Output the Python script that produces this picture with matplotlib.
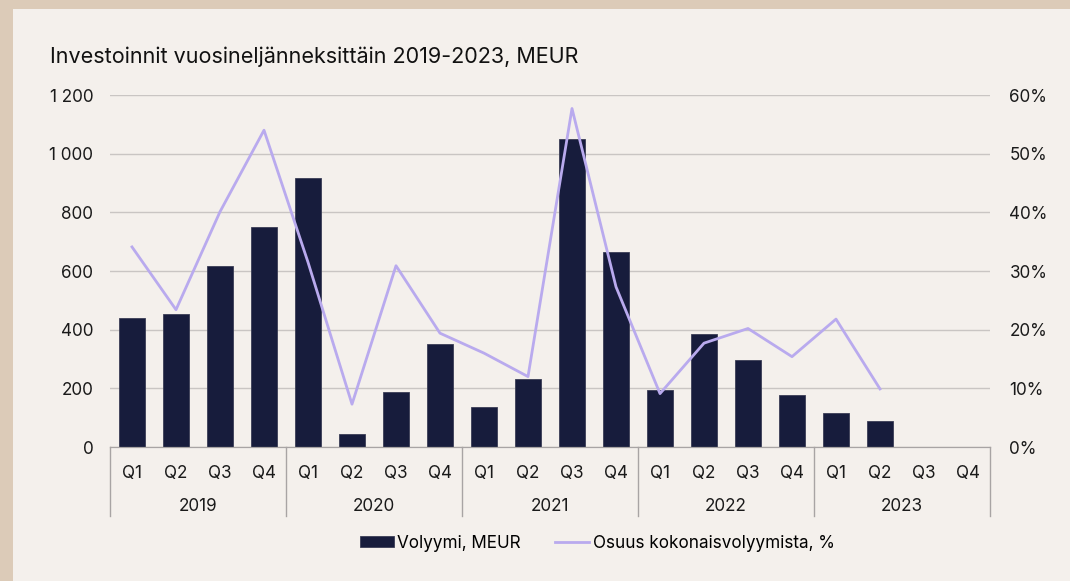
import matplotlib
matplotlib.use("Agg")
import matplotlib.pyplot as plt
import matplotlib.transforms as mtransforms
from matplotlib.patches import Rectangle
import numpy as np

plt.rcParams['font.family'] = ['Inter', 'DejaVu Sans']

years = ['2019', '2020', '2021', '2022', '2023']
quarters = ['Q1', 'Q2', 'Q3', 'Q4']

# Volyymi, MEUR (2023 Q3/Q4 empty)
volume = [440, 452, 618, 750,
          918, 44, 189, 351,
          137, 233, 1050, 666,
          194, 384, 297, 177,
          117, 90, np.nan, np.nan]

# Osuus kokonaisvolyymista, %
share = [34.1, 23.4, 40.1, 54.0,
         31.5, 7.3, 30.9, 19.4,
         16.0, 12.0, 57.7, 27.3,
         9.1, 17.7, 20.2, 15.4,
         21.8, 9.9, np.nan, np.nan]

bar_color = '#171c3c'
line_color = '#b9aaee'
grid_color = '#c9c5c3'
panel_color = '#f4f0ec'
frame_color = '#dccbb8'
fs = 12.3

fig = plt.figure(figsize=(10.7, 5.81), dpi=100, facecolor=frame_color)
fig.patches.append(Rectangle((13 / 1070, 0), 1, 1 - 9 / 581, transform=fig.transFigure,
                             facecolor=panel_color, edgecolor='none', zorder=-10))

ax = fig.add_axes([110 / 1070, 1 - 447 / 581, 880 / 1070, 352 / 581])
ax.set_facecolor('none')
x = np.arange(len(volume))

ax.bar(x, volume, width=0.58, color=bar_color, edgecolor='#3a3d55', linewidth=0.6,
       zorder=2, label='Volyymi, MEUR')
ax.set_xlim(-0.5, len(volume) - 0.5)
ax.set_ylim(0, 1200)
ax.set_yticks(np.arange(0, 1201, 200))
ax.set_yticklabels([f'{v:,}'.replace(',', ' ') for v in range(0, 1201, 200)])
ax.grid(axis='y', color=grid_color, linewidth=1, zorder=0)
ax.set_axisbelow(True)

ax2 = ax.twinx()
ax2.plot(x, share, color=line_color, linewidth=2, zorder=3, label='Osuus kokonaisvolyymista, %')
ax2.set_ylim(0, 60)
ax2.set_yticks(np.arange(0, 61, 10))
ax2.set_yticklabels([f'{v}%' for v in range(0, 61, 10)])

for a in (ax, ax2):
    for s in ('top', 'left', 'right'):
        a.spines[s].set_visible(False)
    a.spines['bottom'].set_color('#a8a4a4')
    a.tick_params(axis='y', length=0, labelsize=fs, colors='#1a1a1a')
ax.tick_params(axis='y', pad=12)
ax2.tick_params(axis='y', pad=14)

# quarter labels and year groups
ax.set_xticks(x)
ax.set_xticklabels(quarters * len(years))
ax.tick_params(axis='x', length=0, labelsize=fs, pad=13, colors='#1a1a1a')
trans = mtransforms.blended_transform_factory(ax.transData, ax.transAxes)
for i, yr in enumerate(years):
    ax.text(i * 4 + 1.5, -0.17, yr, transform=trans, ha='center', va='center',
            fontsize=fs, color='#1a1a1a')
for b in range(len(years) + 1):
    ax.plot([b * 4 - 0.5] * 2, [0, -0.195], transform=trans, color='#a8a4a4',
            linewidth=1, clip_on=False)

fig.text(50 / 1070, 1 - 57 / 581, 'Investoinnit vuosineljänneksittäin 2019-2023, MEUR',
         fontsize=15.5, va='center', ha='left', color='#111111')

h1, l1 = ax.get_legend_handles_labels()
h2, l2 = ax2.get_legend_handles_labels()
fig.legend(h1 + h2, l1 + l2, loc='center', bbox_to_anchor=(597 / 1070, 1 - 543 / 581),
           ncol=2, frameon=False, fontsize=fs, handlelength=2.0, handleheight=0.6,
           handletextpad=0.2, columnspacing=2.0)

fig.savefig('out.png', dpi=100, facecolor=fig.get_facecolor())
